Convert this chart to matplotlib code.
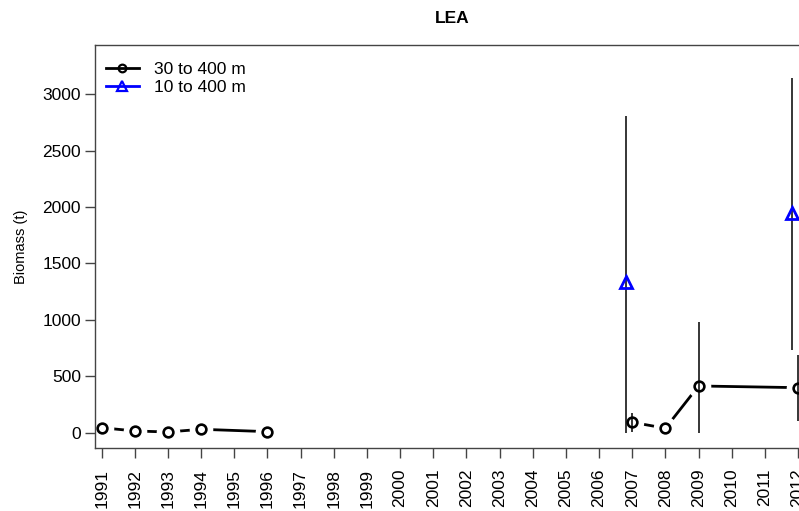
import numpy as np
import matplotlib
matplotlib.use("Agg")
import matplotlib.pyplot as plt

plt.rcParams['font.family'] = ['Liberation Sans', 'DejaVu Sans']

# 30 to 400 m survey
years_a = np.array([1991, 1992, 1993, 1994, 1996, 2007, 2008, 2009, 2012])
biomass_a = np.array([44, 15, 6, 30, 9, 92, 39, 414, 399])
lo_a = np.array([np.nan, np.nan, np.nan, np.nan, np.nan, 9, np.nan, 0, 106])
hi_a = np.array([np.nan, np.nan, np.nan, np.nan, np.nan, 177, np.nan, 984, 689])

# 10 to 400 m survey
years_b = np.array([2007, 2012])
biomass_b = np.array([1336, 1950])
lo_b = np.array([0, 733])
hi_b = np.array([2807, 3142])

year_ticks = np.arange(1991, 2013)
dodge = 0.18

fig = plt.figure(figsize=(7.99, 5.11), dpi=100)
ax = fig.add_axes([95 / 799, 63 / 511, 714 / 799, 403 / 511])

# lines with gaps (R type="b"), one piece per survey period
for seg in [years_a < 2000, years_a > 2000]:
    ax.plot(years_a[seg], biomass_a[seg], color='black', lw=2.0, zorder=2)
ax.plot(years_a, biomass_a, ls='none', marker='o', ms=17, mfc='white', mec='none', zorder=3)

# error bars
ax.vlines(years_a, lo_a, hi_a, color='black', lw=1.1, zorder=4)
ax.vlines(years_b - dodge, lo_b, hi_b, color='black', lw=1.1, zorder=4)

ax.plot(years_a, biomass_a, ls='none', marker='o', ms=7, mfc='none', mec='black', mew=1.9, zorder=5)
ax.plot(years_b - dodge, biomass_b, ls='none', marker='^', ms=8.5, mfc='none', mec='blue', mew=2.0, zorder=5)

# legend handles
h1, = ax.plot([], [], color='black', lw=2.0, marker='o', ms=5.5, mfc='none', mew=1.6)
h2, = ax.plot([], [], color='blue', lw=2.0, marker='^', ms=7, mfc='none', mew=1.6)
ax.legend([h1, h2], ['30 to 400 m', '10 to 400 m'], loc='upper left',
          bbox_to_anchor=(0.016, 0.958), frameon=False, fontsize=12.5,
          handlelength=1.85, handletextpad=0.9, labelspacing=0.15,
          borderpad=0, borderaxespad=0)

ax.set_xlim(1990.8, 2012.33)
ax.set_ylim(-136, 3437)
ax.set_xticks(year_ticks)
ax.set_xticklabels([str(y) for y in year_ticks], rotation=90)
ax.set_yticks(np.arange(0, 3001, 500))
ax.tick_params(labelsize=12.5, length=7, width=1, color='#444444', pad=3)
ax.tick_params(axis='x', pad=8)

ax.spines['right'].set_visible(False)
for s in ['left', 'top', 'bottom']:
    ax.spines[s].set_color('#444444')
    ax.spines[s].set_linewidth(1.0)
    ax.spines[s].set_zorder(6)

ax.set_ylabel('Biomass (t)', fontsize=10.5, labelpad=10)
ax.set_title('LEA', fontsize=12.5, fontweight='bold', pad=16)

fig.savefig('out.png', dpi=100)
